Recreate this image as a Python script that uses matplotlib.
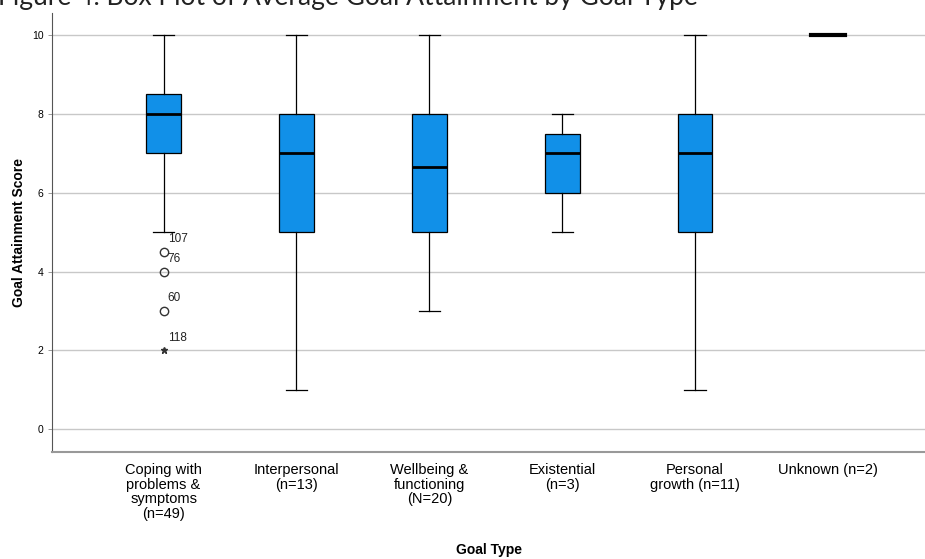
import matplotlib.pyplot as plt

# --- data ---
labels = ["Coping with\nproblems &\nsymptoms\n(n=49)", "Interpersonal\n(n=13)",
          "Wellbeing &\nfunctioning\n(N=20)", "Existential\n(n=3)",
          "Personal\ngrowth (n=11)", "Unknown (n=2)"]
whislo = [5, 1, 3, 5, 1, 10]
q1 = [7, 5, 5, 6, 5, 10]
med = [8, 7, 6.65, 7, 7, 10]
q3 = [8.5, 8, 8, 7.5, 8, 10]
whishi = [10, 10, 10, 8, 10, 10]
outlier_vals = [4.5, 4, 3]
outlier_ids = ["107", "76", "60"]
extreme_vals = [2]
extreme_ids = ["118"]

plt.rcParams['font.family'] = ["Liberation Sans", "DejaVu Sans"]

fig = plt.figure(figsize=(9.25, 5.59), dpi=100)
ax = fig.add_axes([52 / 925, 1 - 452 / 559, 1 - 52 / 925, (452 - 13) / 559])

stats = []
for i in range(len(labels)):
    stats.append(dict(whislo=whislo[i], q1=q1[i], med=med[i], q3=q3[i],
                      whishi=whishi[i], fliers=[]))
# unknown group collapses to a single line, drawn without box/whiskers
ax.bxp(stats[:5], positions=range(5), widths=0.26, patch_artist=True,
       showfliers=False, capwidths=0.16,
       boxprops=dict(facecolor="#1190e8", edgecolor="black", linewidth=0.9),
       medianprops=dict(color="black", linewidth=2),
       whiskerprops=dict(color="black", linewidth=0.9),
       capprops=dict(color="black", linewidth=0.9))
ax.plot([5 - 0.13, 5 + 0.13], [med[5], med[5]], color="black", lw=3, zorder=3)

# outliers and extremes for the first group
ax.plot([0] * len(outlier_vals), outlier_vals, "o", mfc="none", mec="#333333",
        ms=6, mew=1)
ax.plot([0] * len(extreme_vals), extreme_vals, "*", color="#333333", ms=5)
for v, t in zip(outlier_vals + extreme_vals, outlier_ids + extreme_ids):
    ax.annotate(t, (0, v), xytext=(3, 7), textcoords="offset points",
                fontsize=8.5, color="#222222")

ax.set_xlim(-0.84, 5.73)
ax.set_ylim(-0.58, 10.56)
ax.set_yticks([0, 2, 4, 6, 8, 10])
ax.set_yticklabels(["0", "2", "4", "6", "8", "10"], fontsize=7.5)
ax.set_xticks(range(6))
ax.set_xticklabels(labels, fontsize=10.5, linespacing=1.05, va="top")
ax.tick_params(axis="x", length=0, pad=8)
ax.tick_params(axis="y", length=3, width=0.6, color="#888888", pad=3)
ax.yaxis.grid(True, color="#c8c8c8", lw=1)
ax.set_axisbelow(True)
for s in ["top", "right"]:
    ax.spines[s].set_visible(False)
ax.spines["left"].set_color("#555555")
ax.spines["left"].set_linewidth(0.8)
ax.spines["bottom"].set_color("#999999")
ax.spines["bottom"].set_linewidth(1.5)

ax.set_xlabel("Goal Type", fontsize=10, fontweight="bold", labelpad=16)
ax.set_ylabel("Goal Attainment Score", fontsize=10, fontweight="bold", labelpad=4)

fig.text(-0.002, 1 - 5 / 559, "Figure 4. Box Plot of Average Goal Attainment by Goal Type",
         fontsize=19, family=["Lato", "DejaVu Sans"],
         va="baseline", ha="left", color="#222222")

fig.savefig("out.png", dpi=100)
